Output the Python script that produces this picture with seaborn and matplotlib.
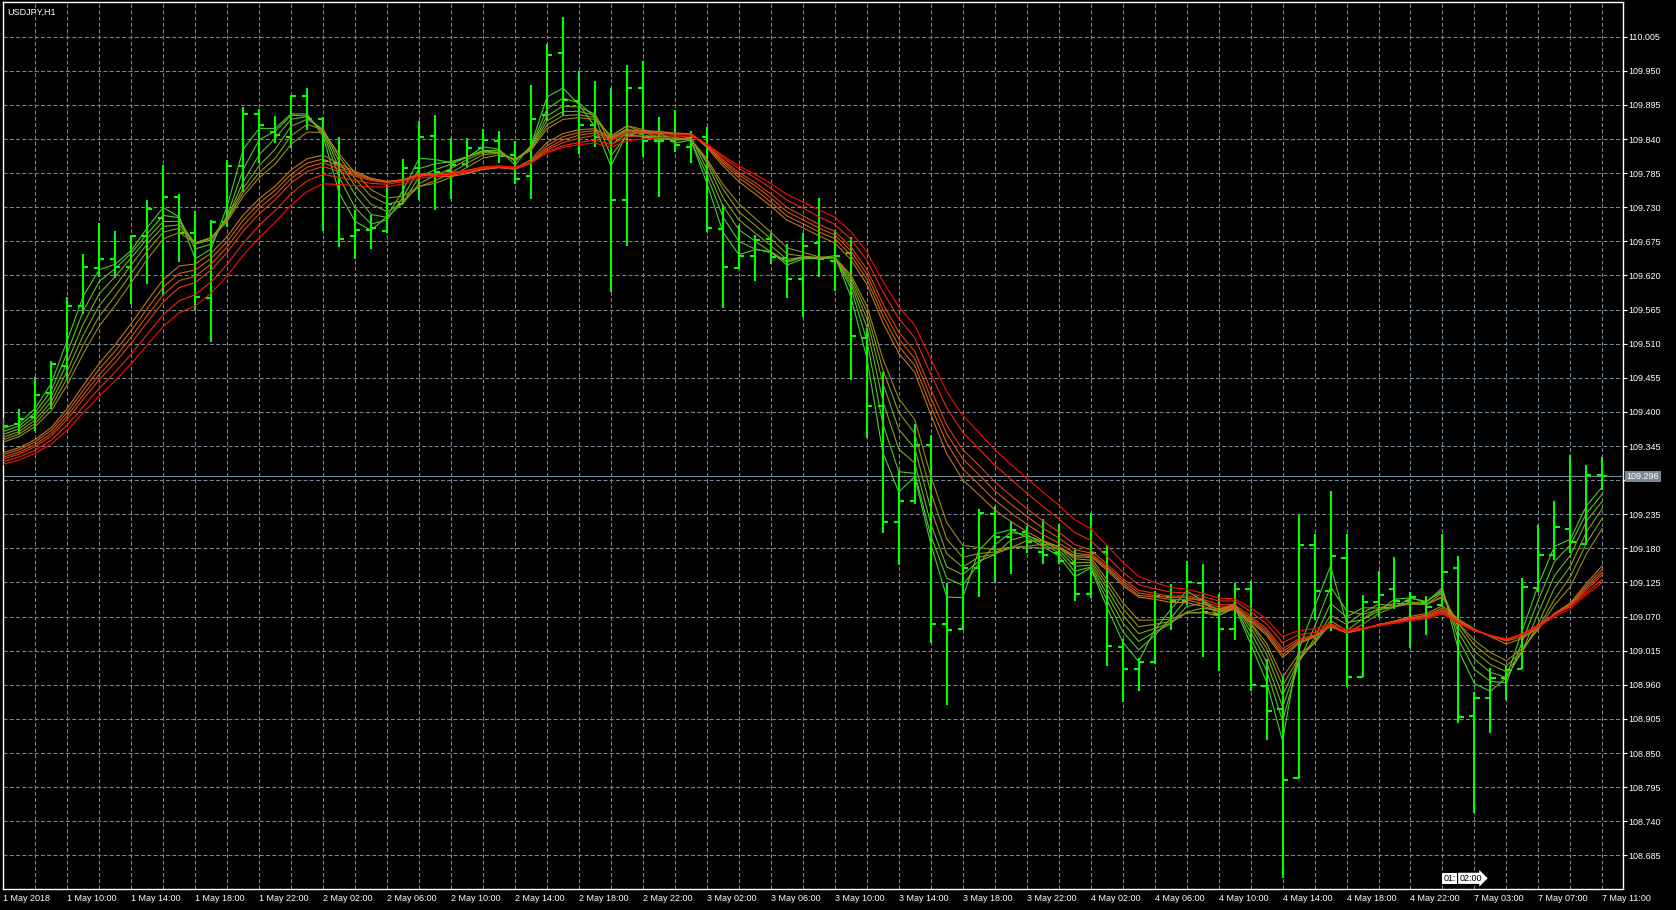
import numpy as np
import pandas as pd
import matplotlib
matplotlib.use("Agg")
import matplotlib.pyplot as plt
import matplotlib.transforms as mtransforms
import seaborn as sns

# USDJPY H1 bars, 1 May 06:00 .. 7 May 11:00
opens = [109.372, 109.380, 109.391, 109.430, 109.474, 109.570, 109.632, 109.647, 109.634, 109.683,
         109.712, 109.747, 109.688, 109.584, 109.706, 109.797, 109.880, 109.851, 109.844, 109.910,
         109.872, 109.801, 109.684, 109.693, 109.692, 109.735, 109.794, 109.845, 109.788, 109.800,
         109.826, 109.836, 109.814, 109.781, 109.878, 109.978, 109.902, 109.863, 109.844, 109.742,
         109.923, 109.836, 109.836, 109.827, 109.844, 109.695, 109.632, 109.652, 109.678, 109.648,
         109.614, 109.673, 109.643, 109.656, 109.519, 109.410, 109.222, 109.257, 109.346, 109.058,
         109.050, 109.149, 109.235, 109.199, 109.206, 109.174, 109.172, 109.157, 109.106, 109.174,
         109.021, 108.985, 108.997, 109.101, 109.095, 109.124, 109.074, 109.050, 109.114, 108.958,
         108.921, 108.809, 109.186, 109.112, 109.165, 108.973, 109.093, 109.115, 109.095, 109.092,
         109.088, 109.149, 108.910, 108.938, 108.971, 108.985, 109.116, 109.170, 109.211, 109.187,
         109.299]
highs = [109.390, 109.404, 109.457, 109.482, 109.585, 109.655, 109.705, 109.691, 109.685, 109.741,
         109.798, 109.752, 109.724, 109.710, 109.806, 109.891, 109.889, 109.877, 109.911, 109.922,
         109.876, 109.843, 109.725, 109.718, 109.766, 109.807, 109.869, 109.879, 109.841, 109.841,
         109.856, 109.853, 109.837, 109.927, 109.993, 110.036, 109.949, 109.933, 109.923, 109.959,
         109.966, 109.875, 109.886, 109.853, 109.859, 109.734, 109.702, 109.685, 109.688, 109.670,
         109.688, 109.745, 109.693, 109.682, 109.535, 109.464, 109.307, 109.381, 109.362, 109.124,
         109.182, 109.244, 109.249, 109.224, 109.216, 109.228, 109.220, 109.177, 109.237, 109.186,
         109.034, 109.004, 109.112, 109.122, 109.160, 109.154, 109.107, 109.124, 109.128, 109.002,
         108.975, 109.233, 109.203, 109.273, 109.203, 109.105, 109.143, 109.166, 109.109, 109.104,
         109.203, 109.168, 108.949, 108.987, 108.990, 109.133, 109.217, 109.257, 109.331, 109.314,
         109.328]
lows = [109.360, 109.364, 109.370, 109.405, 109.452, 109.558, 109.618, 109.616, 109.574, 109.607,
        109.588, 109.641, 109.564, 109.513, 109.698, 109.755, 109.801, 109.834, 109.825, 109.855,
        109.692, 109.666, 109.646, 109.663, 109.689, 109.735, 109.741, 109.726, 109.743, 109.795,
        109.814, 109.801, 109.768, 109.743, 109.869, 109.879, 109.816, 109.827, 109.594, 109.668,
        109.811, 109.747, 109.819, 109.801, 109.690, 109.568, 109.631, 109.611, 109.639, 109.583,
        109.553, 109.618, 109.595, 109.452, 109.358, 109.205, 109.153, 109.251, 109.028, 108.927,
        109.050, 109.101, 109.126, 109.138, 109.172, 109.154, 109.155, 109.095, 109.100, 108.990,
        108.932, 108.950, 108.993, 109.049, 109.088, 109.005, 108.983, 109.033, 108.950, 108.871,
        108.648, 108.809, 109.064, 109.047, 108.956, 108.973, 109.069, 109.082, 109.019, 109.041,
        109.086, 108.899, 108.754, 108.882, 108.936, 108.985, 109.110, 109.161, 109.172, 109.186,
        109.274]
closes = [109.377, 109.389, 109.427, 109.478, 109.570, 109.634, 109.646, 109.634, 109.683, 109.727,
          109.747, 109.688, 109.586, 109.706, 109.797, 109.880, 109.862, 109.846, 109.910, 109.872,
          109.805, 109.679, 109.693, 109.697, 109.735, 109.793, 109.844, 109.787, 109.798, 109.826,
          109.838, 109.813, 109.775, 109.872, 109.976, 109.903, 109.863, 109.844, 109.742, 109.922,
          109.836, 109.836, 109.831, 109.844, 109.697, 109.634, 109.652, 109.677, 109.649, 109.615,
          109.667, 109.646, 109.651, 109.522, 109.410, 109.222, 109.257, 109.346, 109.058, 109.049,
          109.149, 109.237, 109.199, 109.209, 109.190, 109.170, 109.159, 109.106, 109.173, 109.022,
          108.986, 108.997, 109.103, 109.095, 109.125, 109.077, 109.050, 109.114, 108.960, 108.918,
          108.807, 109.186, 109.111, 109.167, 108.972, 109.093, 109.105, 109.095, 109.102, 109.086,
          109.142, 108.908, 108.938, 108.971, 108.984, 109.117, 109.170, 109.214, 109.190, 109.299,
          109.296]

# linear weighted MA ribbon: periods and their level at the left edge of the chart
ma_periods = [3, 4, 5, 6, 7, 8, 13, 14, 15, 16, 18, 20]
ma_start = [109.370, 109.363, 109.357, 109.352, 109.348, 109.344,
            109.327, 109.324, 109.320, 109.317, 109.313, 109.309]
ma_colors = ["#3fd22a", "#58c424", "#6cb420", "#7fa41c", "#8e9618", "#9c8a16",
             "#c4761c", "#cc6418", "#d65214", "#e04010", "#ee280a", "#ff0a00"]

x_labels = ["1 May 2018", "1 May 10:00", "1 May 14:00", "1 May 18:00", "1 May 22:00",
            "2 May 02:00", "2 May 06:00", "2 May 10:00", "2 May 14:00", "2 May 18:00",
            "2 May 22:00", "3 May 02:00", "3 May 06:00", "3 May 10:00", "3 May 14:00",
            "3 May 18:00", "3 May 22:00", "4 May 02:00", "4 May 06:00", "4 May 10:00",
            "4 May 14:00", "4 May 18:00", "4 May 22:00", "7 May 03:00", "7 May 07:00",
            "7 May 11:00"]
y_ticks = [round(110.005 - 0.055 * k, 3) for k in range(25)]
last_price = 109.296

bars = pd.DataFrame({"bar": np.arange(len(closes)), "open": opens, "high": highs,
                     "low": lows, "close": closes})

# LWMA of the closes; history before the first bar is held at the line's start level
rows = []
c = np.array(closes)
for period, start in zip(ma_periods, ma_start):
    w = np.arange(period, 0, -1, dtype=float)
    ext = np.concatenate([np.full(period - 1, start), c])
    vals = np.convolve(ext, w, mode="valid") / w.sum()
    for i, v in enumerate(vals):
        rows.append({"bar": i, "price": v, "period": period})
ma = pd.DataFrame(rows)

sns.set_style("dark")
plt.rcParams["font.family"] = ["Liberation Sans", "DejaVu Sans"]

W, H = 1676, 910
fig = plt.figure(figsize=(W / 100, H / 100), dpi=100, facecolor="black")
ax = fig.add_axes([3 / W, (H - 889.3) / H, 1620 / W, 887.6 / H])
ax.set_facecolor("black")

grid_col = "#778899"
green = "#00ff00"

# OHLC bars
ax.vlines(bars["bar"], bars["low"], bars["high"], color=green, lw=1.5, zorder=3)
ax.hlines(bars["open"], bars["bar"] - 0.32, bars["bar"], color=green, lw=1.5, zorder=3)
ax.hlines(bars["close"], bars["bar"], bars["bar"] + 0.32, color=green, lw=1.5, zorder=3)

sns.lineplot(data=ma, x="bar", y="price", hue="period", hue_order=ma_periods,
             palette=dict(zip(ma_periods, ma_colors)), estimator=None, sort=False,
             linewidth=0.8, legend=False, ax=ax, zorder=4)

ax.axhline(last_price, color=grid_col, lw=0.8, zorder=2)

ax.set_xlim(-0.02, 101.29)
ax.set_ylim(108.6303, 110.0614)

ax.set_xticks(np.arange(0, 101, 4))
ax.set_xticklabels(x_labels, ha="left")
ax.set_xticks(np.arange(2, 101, 4), minor=True)
ax.set_yticks(y_ticks)
# the 109.290 label sits under the price tag
ax.set_yticklabels(["" if abs(v - 109.290) < 1e-6 else f"{v:.3f}" for v in y_ticks])
ax.yaxis.tick_right()

ax.tick_params(axis="x", which="major", colors="white", labelcolor="white", length=3,
               width=0.8, pad=0.5, labelsize=6.5)
ax.tick_params(axis="x", which="minor", length=0)
ax.tick_params(axis="y", colors="white", labelcolor="white", length=3, width=0.8,
               pad=1, labelsize=6.5)
ax.set_xlabel("")
ax.set_ylabel("")

ax.grid(True, which="both", color=grid_col, lw=0.75, linestyle=(0, (3.8, 2.2)))
ax.set_axisbelow(True)
for s in ax.spines.values():
    s.set_color("white")
    s.set_linewidth(1.0)

ax.text(0.0025, 0.993, "USDJPY,H1", transform=ax.transAxes, color="white",
        fontsize=6.5, ha="left", va="top")

# price tag on the right scale
trans = mtransforms.blended_transform_factory(ax.transAxes, ax.transData)
ax.text(1.0023, last_price, "109.296", transform=trans, color="white", fontsize=6.5,
        ha="left", va="center", clip_on=False, zorder=10,
        bbox=dict(boxstyle="square,pad=0.15", fc="#7a8796", ec="none"))

# time marker near the bottom
ax.text(90.05, 108.648, "01:", color="black", fontsize=6.5, ha="left", va="center",
        zorder=10, bbox=dict(boxstyle="square,pad=0.12", fc="white", ec="none"))
ax.text(91.05, 108.648, "02:00", color="black", fontsize=6.5, ha="left", va="center",
        zorder=10, bbox=dict(boxstyle="rarrow,pad=0.12", fc="white", ec="none"))

fig.savefig("out.png", dpi=100, facecolor="black")
